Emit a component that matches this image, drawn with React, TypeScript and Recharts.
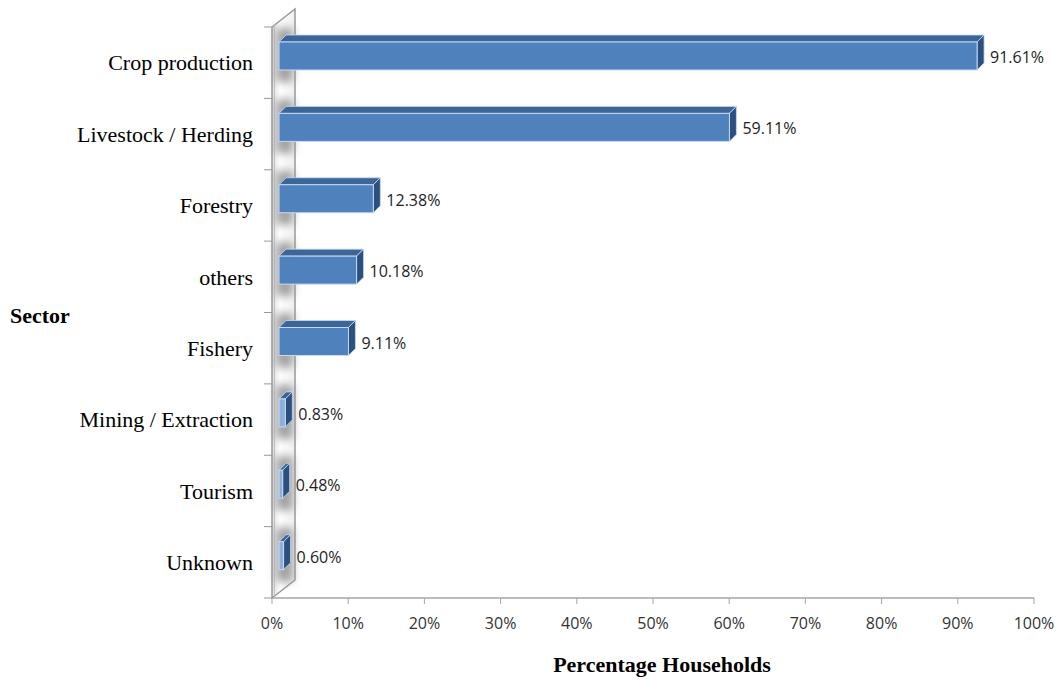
import React from "react";
import {
  BarChart,
  Bar,
  XAxis,
  YAxis,
  LabelList,
  Customized,
} from "recharts";

const categories = [
  "Crop production",
  "Livestock / Herding",
  "Forestry",
  "others",
  "Fishery",
  "Mining / Extraction",
  "Tourism",
  "Unknown",
];

const shares = [91.61, 59.11, 12.38, 10.18, 9.11, 0.83, 0.48, 0.6];

const xTicks = [0, 10, 20, 30, 40, 50, 60, 70, 80, 90, 100];

const rows = categories.map((name, i) => ({ name, share: shares[i] }));

// chart frame
const W = 1060;
const H = 683;
const LEFT = 272;
const TOP = 27;
const RIGHT = 26;
const X_AXIS_H = 40;
const BOTTOM = 45;
const PLOT_BOTTOM = H - BOTTOM - X_AXIS_H;

// depth of the 3d bars and the back wall
const DEPTH = 7;
const LIFT = 7;
const WALL_DX = 23;
const WALL_DY = 18;

const FRONT = "#4f81bd";
const TOP_FACE = "#3d6698";
const SIDE = "#2b4f7e";
const EDGE = "#c6daf1";

const serif = "'Liberation Serif', 'Times New Roman', serif";
const sans = "'Open Sans', 'Noto Sans', sans-serif";

function WallPanel() {
  const band = (PLOT_BOTTOM - TOP) / categories.length;
  const pts = [
    [LEFT, PLOT_BOTTOM],
    [LEFT, TOP],
    [LEFT + WALL_DX, TOP - WALL_DY],
    [LEFT + WALL_DX, PLOT_BOTTOM - WALL_DY],
  ]
    .map((p) => p.join(","))
    .join(" ");
  return (
    <g>
      <defs>
        <linearGradient id="wallFill" x1="0" y1="0" x2="1" y2="0">
          <stop offset="0%" stopColor="#dedede" />
          <stop offset="35%" stopColor="#ffffff" />
          <stop offset="100%" stopColor="#f0f0f0" />
        </linearGradient>
        <filter id="soft" x="-50%" y="-50%" width="200%" height="200%">
          <feGaussianBlur stdDeviation="4" />
        </filter>
      </defs>
      <polygon points={pts} fill="url(#wallFill)" stroke="#999" strokeWidth={1.5} />
      <line
        x1={LEFT + 2.5}
        y1={PLOT_BOTTOM - 2}
        x2={LEFT + 2.5}
        y2={TOP - 2}
        stroke="#c4c4c4"
        strokeWidth={1}
      />
      {Array.from({ length: categories.length + 1 }, (_, i) => (
        <line
          key={i}
          x1={LEFT - 8}
          x2={LEFT}
          y1={TOP + i * band}
          y2={TOP + i * band}
          stroke="#999"
          strokeWidth={1}
        />
      ))}
    </g>
  );
}

function Bar3D(props: any) {
  const { x, y, width, height } = props;
  const fx = x + DEPTH;
  const fy = y - LIFT;
  const w = Math.max(width, 1);
  const h = height;
  const d = DEPTH;
  return (
    <g>
      {/* soft shadow cast on the wall */}
      <rect
        x={LEFT + 4}
        y={fy - 14}
        width={WALL_DX - 6}
        height={h + 26}
        fill="#8c8c8c"
        opacity={0.8}
        filter="url(#soft)"
      />
      <polygon
        points={`${fx},${fy} ${fx + d},${fy - d} ${fx + w + d},${fy - d} ${fx + w},${fy}`}
        fill={TOP_FACE}
        stroke={EDGE}
        strokeWidth={0.8}
      />
      <polygon
        points={`${fx + w},${fy} ${fx + w + d},${fy - d} ${fx + w + d},${fy + h - d} ${fx + w},${fy + h}`}
        fill={SIDE}
        stroke={EDGE}
        strokeWidth={0.8}
      />
      <rect
        x={fx}
        y={fy}
        width={w}
        height={h}
        fill={width < 10 ? "#8fb0da" : FRONT}
        stroke={EDGE}
        strokeWidth={1}
      />
    </g>
  );
}

function ShareLabel(props: any) {
  const { x, y, width, height, value } = props;
  return (
    <text
      x={x + width + DEPTH * 2 + 6}
      y={y - LIFT + height / 2 + 1}
      fill="#1e1e1e"
      fontFamily={sans}
      fontSize={16}
      fontWeight={500}
      dominantBaseline="central"
    >
      {value.toFixed(2)}%
    </text>
  );
}

export default function App() {
  return (
    <div style={{ position: "absolute", left: 0, top: 0, background: "#fff" }}>
      <BarChart
        width={W}
        height={H}
        data={rows}
        layout="vertical"
        margin={{ top: TOP, right: RIGHT, bottom: BOTTOM, left: 0 }}
        barCategoryGap={0}
      >
        <Customized component={WallPanel} />
        <XAxis
          type="number"
          domain={[0, 100]}
          ticks={xTicks}
          tickFormatter={(v) => `${v}%`}
          height={X_AXIS_H}
          axisLine={{ stroke: "#a6a6a6", strokeWidth: 1.5 }}
          tickLine={{ stroke: "#a6a6a6" }}
          tickSize={6}
          tickMargin={14}
          tick={{ fill: "#333", fontFamily: sans, fontSize: 16 }}
          label={{
            value: "Percentage Households",
            position: "bottom",
            offset: 18,
            dx: 9,
            fill: "#000",
            fontFamily: serif,
            fontSize: 22,
            fontWeight: "bold",
          }}
        />
        <YAxis
          type="category"
          dataKey="name"
          width={LEFT}
          axisLine={false}
          tickLine={false}
          tickSize={8}
          tickMargin={11}
          tick={{ fill: "#000", fontFamily: serif, fontSize: 22 }}
          label={{
            value: "Sector",
            position: "insideLeft",
            offset: 10,
            dy: 3,
            fill: "#000",
            fontFamily: serif,
            fontSize: 22,
            fontWeight: "bold",
          }}
        />
        <Bar
          dataKey="share"
          barSize={28}
          shape={Bar3D}
          isAnimationActive={false}
        >
          <LabelList dataKey="share" content={ShareLabel} />
        </Bar>
      </BarChart>
    </div>
  );
}
